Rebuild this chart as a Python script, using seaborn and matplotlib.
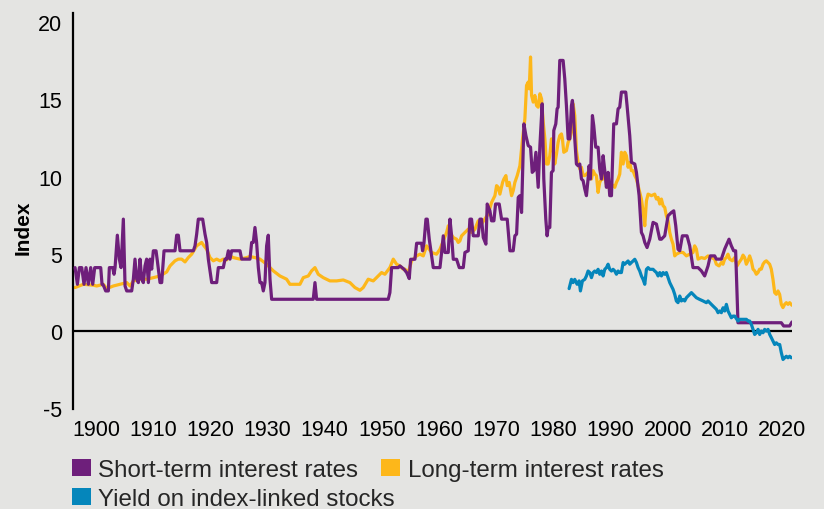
import numpy as np
import pandas as pd
import matplotlib
matplotlib.use("Agg")
import matplotlib.pyplot as plt
from matplotlib.patches import Patch
import seaborn as sns

# ---------------- data ----------------
short_years = [1896.30, 1896.71, 1897.06, 1897.47, 1897.87, 1898.22, 1898.63, 1899.04, 1899.39, 1899.74,
               1900.79, 1901.02, 1901.26, 1901.66, 1902.13, 1902.30, 1902.89, 1903.12, 1903.30, 1903.70,
               1904.05, 1904.35, 1904.75, 1905.05, 1905.34, 1906.21, 1906.50, 1906.79, 1907.09, 1907.38,
               1907.67, 1907.96, 1908.25, 1908.54, 1908.83, 1909.13, 1909.42, 1909.71, 1910.00, 1910.47,
               1910.70, 1911.17, 1911.46, 1911.87, 1913.79, 1914.08, 1914.37, 1914.67, 1917.00, 1917.29,
               1917.58, 1917.87, 1918.63, 1919.04, 1919.33, 1919.62, 1920.21, 1921.08, 1921.37, 1922.24,
               1922.54, 1922.83, 1923.12, 1923.41, 1923.70, 1925.16, 1925.45, 1926.91, 1927.20, 1927.49,
               1927.78, 1928.07, 1928.37, 1928.66, 1928.95, 1929.24, 1929.53, 1929.82, 1930.11, 1930.41,
               1930.70, 1937.98, 1938.28, 1938.57, 1951.10, 1951.39, 1951.69, 1952.85,
               1953.15, 1953.85, 1954.32, 1954.78, 1955.02, 1955.77, 1956.07, 1956.94, 1957.11, 1957.35,
               1957.70, 1957.93, 1958.28, 1958.69, 1958.98, 1960.15, 1960.44, 1960.73, 1961.02, 1961.60,
               1961.90, 1962.19, 1962.48, 1963.06, 1963.53, 1964.23, 1964.52, 1965.10, 1965.39, 1965.68,
               1965.98, 1966.85, 1967.14, 1967.43, 1967.73, 1968.19, 1968.42, 1968.89, 1969.18, 1969.59,
               1969.88, 1970.52, 1970.93, 1971.92, 1972.39, 1972.97, 1973.26, 1973.56, 1973.85, 1974.14,
               1974.43, 1974.84, 1975.19, 1975.60, 1976.00, 1976.30, 1976.59, 1976.94, 1977.34, 1977.64,
               1978.04, 1978.32, 1978.67, 1978.90, 1979.08, 1979.37, 1979.66, 1979.95, 1980.07, 1980.42,
               1980.65, 1980.83, 1981.12, 1981.70, 1981.99, 1982.28, 1982.58, 1982.87, 1983.16, 1983.33,
               1983.45, 1983.74, 1984.03, 1984.32, 1984.62, 1984.91, 1985.20, 1985.49, 1985.78, 1986.07,
               1986.25, 1986.48, 1986.83, 1987.06, 1987.41, 1987.82, 1988.11, 1988.41, 1988.70, 1988.99,
               1989.28, 1989.57, 1989.86, 1990.16, 1990.56, 1991.03, 1991.32, 1991.61, 1991.90, 1992.66,
               1992.89, 1993.36, 1993.65, 1994.24, 1994.53, 1995.00, 1995.40, 1995.69, 1995.99, 1996.39,
               1996.86, 1997.44, 1998.03, 1998.61, 1998.90, 1999.48, 2000.07, 2000.65, 2001.06, 2001.41,
               2001.81, 2002.11, 2002.57, 2003.38, 2003.85, 2004.43, 2005.31, 2005.89, 2006.47, 2007.06,
               2007.46, 2008.22, 2008.51, 2009.39, 2009.97, 2010.73, 2011.14, 2011.54, 2011.89, 2012.30,
               2012.59, 2019.88, 2020.29, 2021.34, 2021.75]
short_rates = [4.11, 3.03, 4.11, 4.11, 3.03, 4.11, 3.03, 4.11, 3.03, 4.11,
               4.11, 3.03, 2.97, 2.60, 2.60, 4.11, 4.11, 3.68, 4.11, 6.21,
               4.66, 4.11, 7.25, 2.92, 2.60, 2.60, 3.36, 4.66, 3.36, 3.14,
               4.66, 3.36, 3.14, 4.22, 4.66, 3.14, 4.66, 4.01, 5.20, 5.20,
               4.55, 3.14, 3.14, 5.20, 5.20, 6.21, 6.21, 5.20, 5.20, 5.52,
               6.28, 7.25, 7.25, 6.28, 5.74, 4.66, 3.14, 3.14, 4.11, 4.11,
               4.66, 4.66, 5.20, 4.66, 5.20, 5.20, 4.66, 4.66, 5.74, 5.74,
               6.71, 5.74, 4.11, 3.14, 3.14, 2.60, 3.14, 5.52, 6.21, 3.36,
               2.06, 2.06, 3.14, 2.06, 2.06, 2.49, 4.11, 4.11,
               4.22, 4.01, 3.79, 3.40, 4.65, 4.65, 5.69, 5.69, 5.20, 5.69,
               7.25, 7.25, 5.95, 4.87, 4.11, 4.11, 5.09, 6.17, 5.09, 5.09,
               7.25, 6.17, 4.65, 4.65, 4.11, 4.11, 5.09, 5.20, 7.25, 7.25,
               6.17, 6.17, 7.25, 7.25, 6.06, 5.63, 8.23, 7.79, 7.14, 7.14,
               8.23, 8.23, 7.25, 7.25, 5.20, 5.20, 6.17, 6.28, 8.66, 8.77,
               7.68, 13.42, 12.66, 12.01, 11.91, 10.28, 10.39, 11.58, 9.31, 12.01,
               14.72, 9.85, 7.25, 6.17, 6.71, 6.71, 10.28, 10.39, 12.99, 13.42,
               14.39, 14.50, 17.53, 17.53, 16.34, 14.61, 12.45, 12.45, 14.61, 14.94,
               14.39, 12.45, 10.82, 10.71, 10.82, 9.85, 9.74, 9.20, 8.77, 9.85,
               10.71, 9.85, 13.96, 13.31, 11.91, 11.91, 10.50, 9.85, 11.36, 10.39,
               9.31, 10.28, 8.77, 8.77, 13.42, 13.42, 14.39, 14.50, 15.48, 15.48,
               14.61, 12.66, 10.93, 10.82, 10.28, 8.77, 6.39, 6.17, 5.74, 5.41,
               5.95, 7.04, 6.93, 5.95, 5.95, 6.17, 7.47, 7.68, 7.79, 6.82,
               5.30, 5.20, 6.17, 6.17, 5.52, 4.11, 4.11, 3.90, 3.57, 4.22,
               4.87, 4.87, 4.66, 4.66, 5.31, 5.95, 5.52, 5.20, 5.20, 0.54,
               0.54, 0.54, 0.33, 0.33, 0.59]

long_years = [1896.30, 1897.76, 1899.51, 1900.09, 1901.26, 1901.84, 1903.00, 1904.17, 1905.34, 1905.92,
              1906.50, 1907.67, 1908.83, 1910.00, 1911.17, 1912.33, 1912.92, 1913.79, 1914.37, 1914.96,
              1915.54, 1916.12, 1916.71, 1917.58, 1918.45, 1918.86, 1919.33, 1919.91, 1920.49, 1921.08,
              1921.66, 1922.24, 1922.83, 1923.41, 1923.99, 1925.16, 1926.32, 1926.91, 1927.78, 1928.66,
              1929.82, 1930.99, 1932.15, 1933.32, 1933.90, 1934.49, 1935.65, 1936.24, 1937.11, 1937.69,
              1938.28, 1938.86, 1939.73, 1940.90, 1942.07, 1943.23, 1944.40, 1945.27, 1946.15, 1946.73,
              1947.60, 1948.48, 1949.35, 1949.94, 1950.52, 1951.39, 1951.98, 1952.56, 1953.14, 1953.73,
              1954.02, 1954.61, 1955.19, 1956.07, 1956.65, 1957.23, 1957.81, 1958.69, 1959.56, 1960.15,
              1960.73, 1961.31, 1961.60, 1961.90, 1962.48, 1963.06, 1963.35, 1963.64, 1963.94, 1964.52,
              1965.10, 1965.68, 1966.27, 1966.85, 1967.43, 1967.98, 1968.60, 1969.18, 1969.77, 1970.06,
              1970.35, 1970.64, 1971.11, 1971.34, 1971.69, 1971.92, 1972.27, 1972.68, 1972.97, 1973.26,
              1973.67, 1974.14, 1974.60, 1975.01, 1975.30, 1975.60, 1975.77, 1976.00, 1976.18, 1976.47,
              1976.76, 1977.05, 1977.34, 1977.64, 1977.93, 1978.22, 1978.51, 1978.80, 1979.08, 1979.37,
              1979.66, 1979.95, 1980.24, 1980.54, 1980.83, 1981.12, 1981.41, 1981.58, 1981.82, 1982.28,
              1982.58, 1982.87, 1983.16, 1983.45, 1983.74, 1984.03, 1984.32, 1984.62, 1984.91, 1985.20,
              1985.49, 1985.78, 1986.07, 1986.37, 1986.66, 1986.95, 1987.24, 1987.53, 1987.82, 1988.11,
              1988.41, 1988.70, 1988.99, 1989.28, 1989.57, 1989.86, 1990.16, 1990.45, 1990.74, 1991.03,
              1991.32, 1991.61, 1991.90, 1992.20, 1992.49, 1992.78, 1993.07, 1993.36, 1993.65, 1993.94,
              1994.24, 1994.53, 1994.82, 1995.11, 1995.40, 1995.69, 1995.99, 1996.28, 1996.57, 1997.15,
              1997.73, 1998.03, 1998.32, 1998.61, 1998.90, 1999.19, 1999.48, 1999.77, 2000.07, 2000.36,
              2000.65, 2000.94, 2001.23, 2001.52, 2002.11, 2002.69, 2003.27, 2003.85, 2004.43, 2004.72,
              2005.02, 2005.31, 2005.89, 2006.47, 2007.06, 2007.64, 2008.22, 2008.51, 2008.98, 2009.39,
              2009.68, 2009.97, 2010.26, 2010.55, 2010.85, 2011.31, 2011.72, 2012.13, 2012.48, 2012.89,
              2013.18, 2013.47, 2013.76, 2014.05, 2014.34, 2014.63, 2014.93, 2015.22, 2015.51, 2015.80,
              2016.09, 2016.38, 2016.68, 2016.97, 2017.26, 2017.55, 2017.84, 2018.13, 2018.42, 2018.72,
              2019.01, 2019.30, 2019.59, 2019.88, 2020.17, 2020.46, 2020.76, 2021.05, 2021.34, 2021.75]
long_rates = [2.82, 3.03, 2.97, 2.92, 3.03, 2.75, 2.92, 3.03, 3.14, 2.92,
              3.25, 3.36, 3.36, 3.46, 3.57, 3.83, 4.22, 4.55, 4.66, 4.66,
              4.48, 4.76, 4.98, 5.52, 5.74, 5.52, 5.30, 4.76, 4.55, 4.66,
              4.55, 4.66, 4.61, 4.87, 4.76, 4.66, 4.76, 4.83, 4.76, 4.66,
              4.33, 3.90, 3.57, 3.36, 3.03, 3.03, 3.03, 3.46, 3.57, 3.90,
              4.11, 3.68, 3.46, 3.25, 3.25, 3.31, 3.14, 2.82, 2.64, 2.82,
              3.36, 3.25, 3.57, 3.79, 3.68, 4.11, 4.66, 4.33, 4.22, 4.01,
              4.01, 3.79, 4.55, 4.87, 4.98, 4.87, 5.52, 5.09, 4.98, 5.30,
              5.84, 6.39, 6.82, 6.39, 6.06, 5.95, 5.74, 5.84, 6.17, 6.39,
              6.60, 6.39, 6.60, 7.14, 6.93, 7.25, 7.58, 8.33, 8.77, 9.42,
              9.31, 8.87, 9.63, 9.85, 10.07, 9.42, 9.63, 8.77, 9.09, 9.63,
              10.07, 10.71, 12.45, 13.75, 15.91, 16.13, 15.69, 17.75, 15.26, 14.83,
              15.26, 14.61, 14.50, 15.37, 15.04, 13.53, 12.45, 10.82, 10.82, 11.36,
              12.45, 11.80, 10.82, 11.47, 12.23, 12.66, 12.77, 12.45, 11.58, 11.69,
              12.23, 12.45, 12.88, 14.72, 13.96, 11.69, 10.93, 10.50, 10.61, 10.07,
              10.07, 10.17, 10.28, 10.61, 9.85, 10.39, 10.17, 10.07, 8.98, 9.63,
              9.85, 9.85, 10.28, 9.42, 9.31, 9.42, 9.52, 9.42, 9.31, 9.63,
              9.85, 10.17, 11.58, 10.82, 11.58, 11.36, 10.61, 10.93, 10.39, 10.39,
              10.07, 9.85, 9.42, 8.98, 8.55, 7.79, 6.82, 8.44, 8.87, 8.77,
              8.87, 8.55, 8.66, 8.23, 8.55, 8.12, 8.01, 7.47, 7.14, 6.39,
              5.95, 5.63, 4.87, 4.98, 5.09, 5.09, 4.87, 4.98, 5.09, 5.52,
              5.31, 4.66, 4.76, 4.70, 4.87, 4.76, 4.66, 4.33, 4.22, 4.44,
              4.33, 4.66, 4.76, 4.98, 4.66, 4.55, 4.76, 4.22, 4.44, 4.66,
              4.92, 4.76, 4.33, 4.55, 4.87, 4.55, 4.01, 3.90, 3.68, 3.79,
              4.01, 4.01, 4.33, 4.48, 4.55, 4.44, 4.33, 4.01, 3.36, 2.49,
              2.38, 2.60, 2.38, 1.73, 1.52, 1.73, 1.84, 1.73, 1.84, 1.67]

linked_years = [1982.75, 1983.16, 1983.45, 1983.74, 1984.15, 1984.50, 1984.73, 1985.08, 1985.49, 1985.78,
                1986.07, 1986.37, 1986.66, 1986.95, 1987.24, 1987.53, 1987.82, 1988.11, 1988.41, 1988.70,
                1988.99, 1989.28, 1989.57, 1989.86, 1990.16, 1990.45, 1990.74, 1991.03, 1991.32, 1991.61,
                1991.90, 1992.20, 1992.49, 1992.78, 1993.07, 1993.36, 1993.65, 1993.94, 1994.24, 1994.53,
                1994.82, 1995.11, 1995.40, 1995.69, 1995.99, 1996.28, 1996.57, 1996.86, 1997.44, 1997.73,
                1998.03, 1998.32, 1998.61, 1998.90, 1999.19, 1999.48, 1999.77, 2000.07, 2000.36, 2000.65,
                2000.94, 2001.23, 2001.52, 2001.81, 2002.11, 2002.40, 2002.69, 2002.98, 2003.27, 2003.56,
                2004.15, 2004.44, 2004.73, 2005.02, 2005.60, 2006.19, 2006.77, 2007.06, 2007.35, 2007.64,
                2007.94, 2008.52, 2008.81, 2009.10, 2009.39, 2009.69, 2009.98, 2010.27, 2010.56, 2010.85,
                2011.14, 2011.43, 2011.73, 2012.02, 2012.31, 2012.60, 2013.18, 2013.77, 2014.06, 2014.35,
                2014.64, 2014.93, 2015.22, 2015.52, 2015.81, 2016.10, 2016.39, 2016.68, 2016.97, 2017.26,
                2017.56, 2017.85, 2018.14, 2018.43, 2018.72, 2019.01, 2019.30, 2019.60, 2019.89, 2020.18,
                2020.47, 2020.76, 2021.05, 2021.34, 2021.64]
linked_yields = [2.75, 3.35, 3.14, 3.35, 3.03, 3.25, 2.60, 3.25, 3.35, 3.57,
                 3.89, 3.79, 3.46, 3.79, 3.89, 3.79, 4.00, 3.68, 3.89, 3.57,
                 4.00, 4.11, 4.33, 4.00, 3.89, 4.00, 3.89, 3.68, 3.89, 3.79,
                 3.79, 4.44, 4.33, 4.44, 4.54, 4.33, 4.44, 4.54, 4.65, 4.44,
                 4.11, 3.89, 3.57, 3.35, 3.03, 4.00, 4.11, 4.00, 4.00, 3.89,
                 3.79, 3.57, 3.79, 3.57, 3.79, 3.68, 3.79, 3.46, 3.14, 2.92,
                 2.70, 2.38, 1.95, 1.84, 2.27, 1.95, 2.05, 1.95, 2.16, 2.27,
                 2.49, 2.38, 2.27, 2.16, 2.05, 1.95, 1.84, 1.95, 1.84, 1.73,
                 1.62, 1.41, 1.19, 1.30, 1.19, 1.51, 1.30, 1.73, 1.30, 1.08,
                 0.86, 0.97, 0.97, 0.80, 0.65, 0.76, 0.76, 0.76, 0.65, 0.65,
                 0.43, 0.11, -0.22, -0.11, 0.11, -0.22, 0.00, -0.11, 0.11, 0.00,
                 0.11, -0.22, -0.43, -0.65, -0.87, -0.76, -0.87, -0.87, -1.41, -1.84,
                 -1.73, -1.63, -1.73, -1.63, -1.73]

series_names = ["Short-term interest rates", "Long-term interest rates", "Yield on index-linked stocks"]
x_ticks = [1900, 1910, 1920, 1930, 1940, 1950, 1960, 1970, 1980, 1990, 2000, 2010, 2020]
y_ticks = [-5, 0, 5, 10, 15, 20]
y_tick_labels = ["-5", "0", "5", "10", "15", "20"]
y_label = "Index"

# ---------------- styling ----------------
PURPLE = "#6e1f7b"
YELLOW = "#fdb71a"
BLUE = "#0586bb"
BG = "#e4e4e2"

sns.set_theme(style="white")
plt.rcParams["font.family"] = ["Liberation Sans", "DejaVu Sans"]
plt.rcParams["axes.unicode_minus"] = False

fig = plt.figure(figsize=(8.24, 5.10), dpi=100, facecolor=BG)
ax = fig.add_axes([0.089, 0.196, 0.8725, 0.7765])
ax.set_facecolor(BG)

short_df = pd.DataFrame({"year": short_years, "rate": short_rates})
long_df = pd.DataFrame({"year": long_years, "rate": long_rates})
linked_df = pd.DataFrame({"year": linked_years, "rate": linked_yields})

ax.axhline(0, color="black", lw=1.6, zorder=1)
sns.lineplot(data=long_df, x="year", y="rate", ax=ax, color=YELLOW, lw=2.3,
             sort=False, estimator=None, zorder=2)
sns.lineplot(data=short_df, x="year", y="rate", ax=ax, color=PURPLE, lw=2.3,
             sort=False, estimator=None, zorder=3)
sns.lineplot(data=linked_df, x="year", y="rate", ax=ax, color=BLUE, lw=2.3,
             sort=False, estimator=None, zorder=4)

ax.set_xlim(1896.0, 2021.8)
ax.set_ylim(-5.05, 20.6)
ax.set_xticks(x_ticks)
ax.set_xticklabels([str(t) for t in x_ticks])
ax.set_yticks(y_ticks)
ax.set_yticklabels(y_tick_labels)
ax.tick_params(axis="both", length=0, labelsize=15.5, colors="black")
ax.tick_params(axis="x", pad=7.5)
ax.tick_params(axis="y", pad=8)

for side in ["top", "right", "bottom"]:
    ax.spines[side].set_visible(False)
ax.spines["left"].set_color("black")
ax.spines["left"].set_linewidth(1.6)

ax.set_xlabel("")
ax.set_ylabel(y_label, fontsize=15, fontweight="bold", color="black")
ax.yaxis.set_label_coords(-0.057, 0.46)

leg_kw = dict(loc="upper left", frameon=False, fontsize=17.4, handlelength=0.78,
              handleheight=0.76, handletextpad=0.32, columnspacing=0.95,
              borderpad=0, borderaxespad=0)
row1 = [Patch(facecolor=PURPLE, edgecolor="none", label=series_names[0]),
        Patch(facecolor=YELLOW, edgecolor="none", label=series_names[1])]
row2 = [Patch(facecolor=BLUE, edgecolor="none", label=series_names[2])]
leg1 = fig.legend(handles=row1, ncol=2, bbox_to_anchor=(0.087, 0.099), **leg_kw)
leg2 = fig.legend(handles=row2, ncol=1, bbox_to_anchor=(0.087, 0.042), **leg_kw)

fig.savefig("out.png", dpi=100, facecolor=BG)
